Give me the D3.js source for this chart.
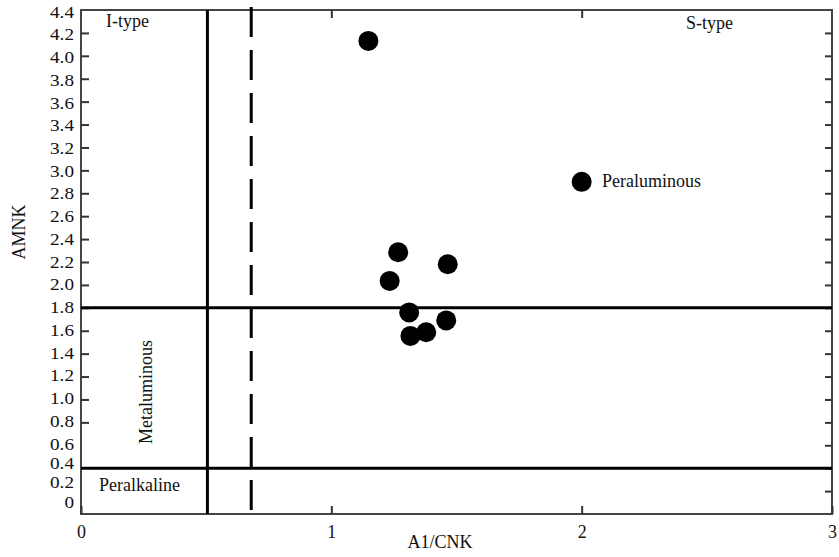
<!doctype html>
<html lang="en">
<head>
  <meta charset="utf-8">
  <title>AMNK vs A1/CNK</title>
  <script src="https://cdn.jsdelivr.net/npm/d3@7"></script>
  <style>
    body { margin: 0; background: #fff; }
    text { font-family: "Liberation Serif", "Times New Roman", serif; fill: #111; }
  </style>
</head>
<body>
  <script type="text/javascript">
    // tick values
    var xTicks = [0, 1, 2, 3];
    var yTicks = [0, 0.2, 0.4, 0.6, 0.8, 1.0, 1.2, 1.4, 1.6, 1.8, 2.0, 2.2,
                  2.4, 2.6, 2.8, 3.0, 3.2, 3.4, 3.6, 3.8, 4.0, 4.2, 4.4];
    // left tick marks only drawn where visible in the figure
    var yLeftMarks = [0.8, 1.0, 1.2, 1.4, 1.6, 1.8, 2.0, 2.2, 2.4, 2.6, 2.8,
                      3.0, 3.2, 3.4, 3.6, 3.8, 4.0, 4.2];

    // samples (A/CNK, A/NK)
    var sampleX = [1.148, 2.0, 1.267, 1.465, 1.233, 1.311, 1.459, 1.316, 1.379];
    var sampleY = [4.13, 2.90, 2.285, 2.18, 2.035, 1.76, 1.69, 1.555, 1.587];

    // field boundaries
    var solidX = [0.505];
    var dashedX = [0.68];
    var boundaryY = [0.4, 1.8];

    var width = 839;
    var height = 557;

    var svg = d3.select("body")
      .append("svg")
      .attr("width", width)
      .attr("height", height);

    var x = d3.scaleLinear().domain([0, 3]).range([81, 832]);
    var y = d3.scaleLinear().domain([0, 4.4]).range([514, 10]);
    // the left tick labels in the figure sit a bit higher near the bottom
    var yLabel = d3.scaleLinear().domain([0, 0.6, 4.4]).range([502, 444, 12]);

    // frame
    svg.append("rect")
      .attr("x", x(0))
      .attr("y", y(4.4))
      .attr("width", x(3) - x(0))
      .attr("height", y(0) - y(4.4))
      .attr("fill", "none")
      .attr("stroke", "#444")
      .attr("stroke-width", 2);

    // inward tick marks
    var leftAxis = svg.append("g")
      .attr("transform", "translate(" + x(0) + ",0)")
      .call(d3.axisLeft(y).tickValues(yLeftMarks).tickSize(-8).tickFormat(""));
    var rightAxis = svg.append("g")
      .attr("transform", "translate(" + x(3) + ",0)")
      .call(d3.axisRight(y).tickValues(yTicks.slice(1, -1)).tickSize(-7).tickFormat(""));
    var topAxis = svg.append("g")
      .attr("transform", "translate(0," + y(4.4) + ")")
      .call(d3.axisTop(x).tickValues([1, 2]).tickSize(-8).tickFormat(""));
    var bottomAxis = svg.append("g")
      .attr("transform", "translate(0," + y(0) + ")")
      .call(d3.axisBottom(x).tickValues(xTicks).tickSize(-8).tickPadding(11)
        .tickFormat(d3.format("d")));

    [leftAxis, rightAxis, topAxis, bottomAxis].forEach(function(g) {
      g.select(".domain").remove();
      g.selectAll(".tick line").attr("stroke", "#333").attr("stroke-width", 2);
    });
    bottomAxis.selectAll(".tick text")
      .attr("font-size", 18)
      .attr("font-family", "Liberation Serif")
      .attr("fill", "#111");

    // left tick labels
    svg.append("g")
      .selectAll("text")
      .data(yTicks)
      .join("text")
      .attr("transform", function(d) {
        return "translate(74," + yLabel(d) + ") scale(1.2,1)";
      })
      .attr("text-anchor", "end")
      .attr("dy", "0.35em")
      .attr("font-size", 16)
      .text(function(d) { return d === 0 ? "0" : d3.format(".1f")(d); });

    // boundary lines
    svg.append("g")
      .selectAll("line")
      .data(boundaryY)
      .join("line")
      .attr("x1", x(0)).attr("x2", x(3))
      .attr("y1", function(d) { return y(d); })
      .attr("y2", function(d) { return y(d); })
      .attr("stroke", "#000")
      .attr("stroke-width", 3);

    svg.append("g")
      .selectAll("line")
      .data(solidX)
      .join("line")
      .attr("x1", function(d) { return x(d); })
      .attr("x2", function(d) { return x(d); })
      .attr("y1", y(4.4)).attr("y2", y(0))
      .attr("stroke", "#000")
      .attr("stroke-width", 3);

    svg.append("g")
      .selectAll("line")
      .data(dashedX)
      .join("line")
      .attr("x1", function(d) { return x(d); })
      .attr("x2", function(d) { return x(d); })
      .attr("y1", y(4.4) - 3).attr("y2", y(0))
      .attr("stroke", "#000")
      .attr("stroke-width", 3)
      .attr("stroke-dasharray", "30,13");

    // samples
    svg.append("g")
      .selectAll("circle")
      .data(sampleX)
      .join("circle")
      .attr("cx", function(d) { return x(d); })
      .attr("cy", function(d, i) { return y(sampleY[i]); })
      .attr("r", 10)
      .attr("fill", "#000");

    // field labels
    function label(txt, px, py, rot) {
      var t = svg.append("text")
        .attr("font-size", 18)
        .text(txt);
      if (rot) {
        t.attr("text-anchor", "middle")
          .attr("transform", "translate(" + px + "," + py + ") rotate(-90)");
      } else {
        t.attr("x", px).attr("y", py);
      }
      return t;
    }

    label("I-type", 106, 27);
    label("S-type", 686, 29);
    label("Peraluminous", 602, 187);
    label("Peralkaline", 99, 491);
    label("Metaluminous", 152, 392, true);

    // axis titles
    label("AMNK", 25, 232, true);
    label("A1/CNK", 440, 548).attr("text-anchor", "middle");
  </script>
</body>
</html>
